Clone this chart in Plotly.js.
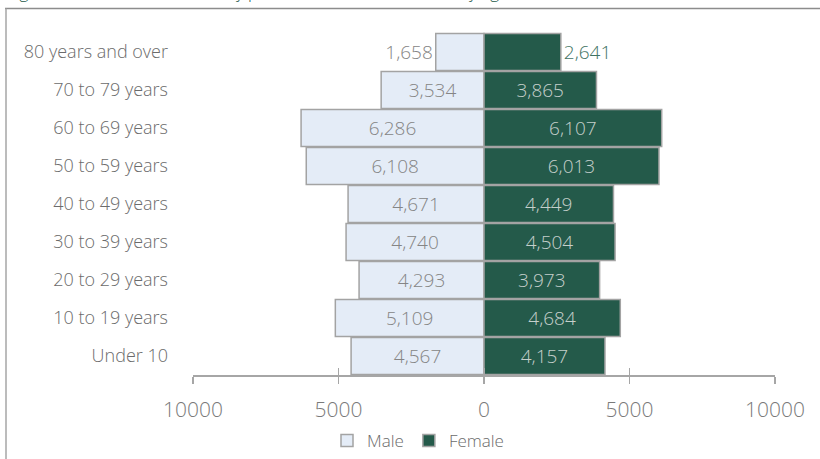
<!DOCTYPE html>
<html>
<head>
<meta charset="utf-8">
<script src="https://cdn.plot.ly/plotly-3.0.1.min.js"></script>
<style>
  html, body { margin: 0; padding: 0; background: #fff; }
  #chart { width: 820px; height: 459px; }
</style>
</head>
<body>
<div id="chart"></div>
<script>
// Categories, top to bottom
const ageGroups = ["80 years and over", "70 to 79 years", "60 to 69 years", "50 to 59 years",
  "40 to 49 years", "30 to 39 years", "20 to 29 years", "10 to 19 years", "Under 10"];
const maleValues   = [1658, 3534, 6286, 6108, 4671, 4740, 4293, 5109, 4567];
const femaleValues = [2641, 3865, 6107, 6013, 4449, 4504, 3973, 4684, 4157];
const tickValues = [-10000, -5000, 0, 5000, 10000];
const tickLabels = ["10000", "5000", "0", "5000", "10000"];
const titleText = "Figure 2: Resident estimates by place of residence, sex and by age";

const fmt = v => v.toLocaleString("en-US");
const FONT = "'Open Sans', Lato, sans-serif";

const male = {
  type: "bar", orientation: "h", name: "Male",
  y: ageGroups,
  x: maleValues.map(v => -v),
  text: maleValues.map(fmt),
  textposition: maleValues.map((v, i) => i === 0 ? "outside" : "inside"),
  insidetextanchor: "middle",
  constraintext: "none",
  textangle: 0,
  textfont: { family: FONT, size: 19, weight: 300, color: "#858585" },
  marker: { color: "#e4ecf7", line: { color: "#a3a3a3", width: 1.5 } },
  hoverinfo: "skip"
};
const female = {
  type: "bar", orientation: "h", name: "Female",
  y: ageGroups,
  x: femaleValues,
  text: femaleValues.map(fmt),
  textposition: femaleValues.map((v, i) => i === 0 ? "outside" : "inside"),
  insidetextanchor: "middle",
  constraintext: "none",
  textangle: 0,
  insidetextfont: { family: FONT, size: 19, weight: 300, color: "#c5cfcb" },
  outsidetextfont: { family: FONT, size: 19, weight: 300, color: "#3f7363" },
  marker: { color: "#245a4a", line: { color: "#a3a3a3", width: 1.5 } },
  hoverinfo: "skip"
};

const plotL = 193, plotR = 775, plotT = 31, plotB = 375;
const pw = plotR - plotL, ph = plotB - plotT;
const px = x => (x - plotL) / pw;
const py = y => (plotB - y) / ph;

const layout = {
  width: 820, height: 459,
  margin: { l: plotL, r: 820 - plotR, t: plotT, b: 459 - plotB, pad: 0, autoexpand: false },
  paper_bgcolor: "#fff", plot_bgcolor: "#fff",
  font: { family: FONT, color: "#6b6b6b", size: 17, weight: 300 },
  barmode: "overlay", bargap: 0.03,
  showlegend: true,
  legend: {
    orientation: "h", x: px(418), xanchor: "center", y: py(441), yanchor: "middle",
    font: { family: FONT, size: 17, weight: 300, color: "#6b6b6b" },
    itemwidth: 30, traceorder: "normal"
  },
  xaxis: {
    range: [-10000, 10000], fixedrange: true,
    tickmode: "array", tickvals: tickValues, ticktext: tickLabels,
    showgrid: false, zeroline: false,
    showline: true, linecolor: "#a6a6a6", linewidth: 1.5,
    ticks: "outside", ticklen: 7, tickwidth: 1.5, tickcolor: "#a6a6a6",
    ticklabelstandoff: 8,
    tickfont: { family: FONT, size: 21, weight: 300, color: "#7a7a7a" }
  },
  xaxis2: {
    overlaying: "x", anchor: "y", side: "bottom", range: [-10000, 10000],
    tickmode: "array", tickvals: tickValues, showticklabels: false,
    showgrid: false, zeroline: false, showline: false,
    ticks: "inside", ticklen: 7, tickwidth: 1.5, tickcolor: "#a6a6a6"
  },
  yaxis: {
    type: "category", autorange: "reversed", fixedrange: true,
    showgrid: false, zeroline: false, showline: false,
    ticks: "", ticklabelstandoff: 24,
    tickfont: { family: FONT, size: 18, weight: 300, color: "#6b6b6b" }
  },
  annotations: [
    { text: titleText, xref: "paper", yref: "paper", x: px(5), y: py(5),
      xanchor: "left", yanchor: "bottom", showarrow: false,
      font: { family: FONT, size: 17, weight: 300, color: "#245a4a" } }
  ],
  shapes: [
    { type: "line", xref: "paper", yref: "paper", x0: px(5), x1: px(820), y0: py(8.5), y1: py(8.5),
      line: { color: "#8c8c8c", width: 1.5 } },
    { type: "line", xref: "paper", yref: "paper", x0: px(6), x1: px(6), y0: py(8.5), y1: py(459),
      line: { color: "#a6a6a6", width: 1.5 } }
  ]
};

// invisible helper trace so the second x-axis (upward ticks) is drawn
const axisHelper = { type: "scatter", x: [0], y: [ageGroups[0]], xaxis: "x2", mode: "markers",
  marker: { opacity: 0 }, showlegend: false, hoverinfo: "skip" };

Plotly.newPlot("chart", [male, female, axisHelper], layout, { staticPlot: true, displayModeBar: false });
</script>
</body>
</html>
